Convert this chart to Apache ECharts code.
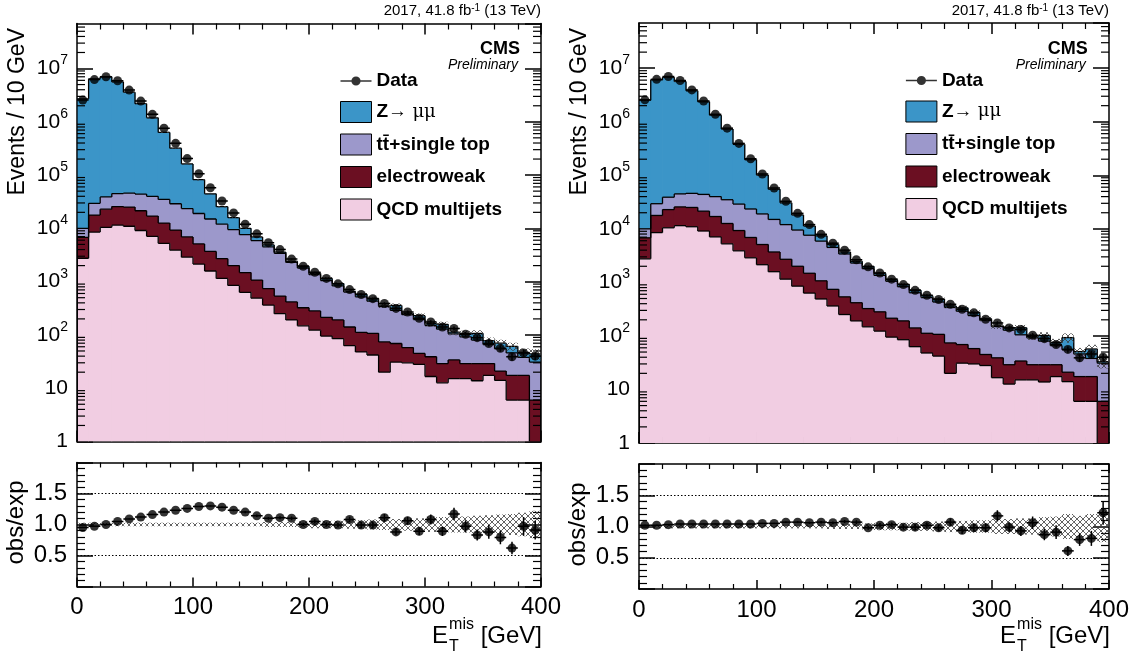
<!DOCTYPE html>
<html>
<head>
<meta charset="utf-8">
<script src="https://cdn.jsdelivr.net/npm/echarts@6/dist/echarts.min.js"></script>
<style>html,body{margin:0;padding:0;background:#fff;}#chart{width:1142px;height:655px;}</style>
</head>
<body>
<div id="chart"></div>
<script>
// ---------------- data ----------------
const binLow = [0,10,20,30,40,50,60,70,80,90,100,110,120,130,140,150,160,170,180,190,200,210,220,230,240,250,260,270,280,290,300,310,320,330,340,350,360,370,380,390];
const xTickValues = [0,100,200,300,400];
const dataCounts = [2.57e6,6.2e6,7.0e6,5.9e6,3.94e6,2.45e6,1.38e6,7.6e5,3.94e5,2.04e5,1.06e5,5.8e4,3.27e4,1.95e4,1.2e4,7900,5400,4000,2650,1950,1500,1150,910,710,575,480,390,315,270,205,175,141,132,103,89,69,56,39,46,40];
const dataErr = [1600,2500,2650,2430,1980,1570,1170,870,630,450,330,240,180,140,110,89,73,63,51,44,39,34,30,27,24,22,20,18,16,14,13,12,11.5,10,9.4,8.3,7.5,6.2,6.8,6.3];
const qcdMultijets = [2750,8510,10470,11480,10960,9120,7080,5250,3890,2880,2140,1585,1150,851,631,490,363,251,191,148,123,95,85,63,48,42,20,31,30,28,16.6,12.6,15.1,15.1,13.8,17.4,14,6.0,6.0,0];
const electroweak = [4050,9290,12430,14220,14140,12280,9920,7350,5410,4020,2960,2115,1550,1149,849,580,378,286,226,176,159,119,106,78,64,65,54,38,28,17,22.4,16.4,18.9,13.9,15.2,11.6,7,11.4,11.4,6.0];
const ttSingleTop = [3200,11700,16100,19300,20900,22600,23000,22400,19700,16600,13900,11300,9300,7500,6120,4830,3760,2860,1880,1480,1070,836,639,499,408,323,266,221,182,150,111,99,71,63,51,37,34,28.6,20.6,25];
const zmumuLeft = [2.69e6,6.37e6,6.96e6,5.56e6,3.56e6,2.15e6,1.15e6,5.98e5,2.91e5,1.385e5,6.3e4,2.96e4,1.35e4,6400,2400,1000,400,200,110,150,80,100,90,17,60,55,11,68,15,35,12,30,8,14,27,12,15,15,9,13];
const zmumuRight = [2.51e6,6.05e6,6.76e6,5.62e6,3.74e6,2.32e6,1.29e6,6.95e5,3.5e5,1.725e5,8.2e4,4.0e4,1.86e4,8700,3700,1500,600,300,180,190,120,70,89,77,44,60,24,45,36,14,3,14,37,5,22,10,38,5,19,2];
const ratioLeft = [0.95,0.97,1.00,1.05,1.09,1.12,1.16,1.20,1.23,1.26,1.29,1.30,1.28,1.23,1.20,1.14,1.10,1.11,1.10,1.00,1.05,1.00,0.99,1.08,0.99,0.99,1.11,0.88,1.06,0.89,1.08,0.89,1.17,0.97,0.83,0.88,0.79,0.62,0.97,0.91];
const ratioRight = [1.02,1.02,1.03,1.04,1.04,1.04,1.04,1.04,1.04,1.04,1.05,1.05,1.07,1.07,1.06,1.07,1.06,1.08,1.07,0.98,1.02,1.03,0.99,0.99,1.02,0.98,1.07,0.94,0.98,0.98,1.17,0.99,0.93,1.06,0.87,0.91,0.61,0.79,0.81,1.22];
const ratioErrLeft = [0.005,0.005,0.005,0.005,0.005,0.005,0.005,0.005,0.005,0.006,0.008,0.01,0.012,0.015,0.018,0.02,0.022,0.025,0.03,0.03,0.035,0.035,0.04,0.045,0.05,0.05,0.06,0.055,0.065,0.065,0.08,0.075,0.1,0.1,0.09,0.11,0.11,0.1,0.15,0.15];
const ratioErrRight = [0.005,0.005,0.005,0.005,0.005,0.005,0.005,0.005,0.005,0.006,0.008,0.01,0.012,0.015,0.018,0.02,0.022,0.025,0.03,0.03,0.035,0.035,0.04,0.045,0.05,0.05,0.06,0.06,0.065,0.07,0.09,0.08,0.08,0.1,0.09,0.11,0.08,0.1,0.12,0.19];
const uncLeft = [0.03,0.03,0.03,0.03,0.03,0.03,0.03,0.03,0.03,0.03,0.03,0.03,0.03,0.03,0.03,0.03,0.04,0.04,0.04,0.05,0.06,0.06,0.06,0.07,0.07,0.08,0.09,0.09,0.1,0.1,0.12,0.12,0.13,0.13,0.14,0.15,0.16,0.17,0.19,0.22];
const uncRight = [0.03,0.03,0.03,0.03,0.03,0.03,0.03,0.03,0.03,0.03,0.03,0.03,0.03,0.03,0.03,0.03,0.04,0.04,0.04,0.05,0.06,0.06,0.06,0.07,0.07,0.08,0.09,0.09,0.1,0.1,0.12,0.12,0.13,0.13,0.15,0.16,0.2,0.17,0.2,0.25];
const legendNames = ['Data','Z\u2192 \u03bc\u03bc','t\u0074\u0304+single top','electroweak','QCD multijets'];
const lumiText = '2017, 41.8 fb';

// ---------------- style ----------------
const FONT = 'Liberation Sans';
const BIN_W = 10, YMIN = 1, YMAX = 7e7;
const COLORS = {z:'#3b95c8', tt:'#9c98cb', ewk:'#6b0f22', qcd:'#f1cde2'};

function cum(...arrs){ return binLow.map((_,i)=>arrs.reduce((s,a)=>s+a[i],0)); }
function hatchCanvas(){
  const c=document.createElement('canvas'); c.width=6; c.height=6;
  const g=c.getContext('2d'); g.strokeStyle='#3a3a3a'; g.lineWidth=0.8;
  g.beginPath(); g.moveTo(0,0); g.lineTo(6,6); g.moveTo(6,0); g.lineTo(0,6); g.stroke();
  return c;
}
const HATCH = {image: hatchCanvas(), repeat:'repeat'};
const measureCtx = document.createElement('canvas').getContext('2d');
function textW(t, size){ measureCtx.font = size+'px "'+FONT+'"'; return measureCtx.measureText(t).width; }

const panels = [
  {z: zmumuLeft, ratio: ratioLeft, rErr: ratioErrLeft, unc: uncLeft,
   main:{left:77, top:23.5, width:464, height:418}, rat:{left:77, top:462.5, width:464, height:124}},
  {z: zmumuRight, ratio: ratioRight, rErr: ratioErrRight, unc: uncRight,
   main:{left:639, top:23, width:470, height:420}, rat:{left:639, top:464, width:470, height:125}}
];

const grids=[], xAxes=[], yAxes=[], series=[], legends=[], titles=[], graphics=[];
const axisLineStyle = {color:'#000', width:1.5};

function logLabel(v){
  const l = Math.log10(v), e = Math.round(l);
  if (Math.abs(l-e) > 1e-6 || e < 0 || e > 7) return '';
  if (e===0) return '{n|1}';
  if (e===1) return '{n|10}';
  return '{n|10}{s|'+e+'}';
}

panels.forEach((P, p) => {
  const gMain = 2*p, gRat = 2*p+1;
  grids.push(Object.assign({show:false, outerBoundsMode:'none', containLabel:false}, P.main));
  grids.push(Object.assign({show:false, outerBoundsMode:'none', containLabel:false}, P.rat));
  [gMain, gRat].forEach(g => {
    const isRat = g === gRat;
    ['bottom','top'].forEach(pos => {
      xAxes.push({type:'value', gridIndex:g, position:pos, min:0, max:400, interval:100,
        axisLine:{show:true, onZero:false, lineStyle:axisLineStyle},
        axisTick:{show:true, inside:true, length: isRat?9:11, lineStyle:{color:'#000', width:1.5}},
        minorTick:{show:true, splitNumber:5, length: isRat?5:6, lineStyle:{color:'#000', width:1.2}},
        splitLine:{show:false},
        axisLabel:{show: isRat && pos==='bottom', margin:9, color:'#000', fontFamily:FONT, fontSize:24,
          formatter: v => xTickValues.includes(v) ? String(v) : ''}
      });
    });
  });
  ['left','right'].forEach(pos => {
    yAxes.push({type:'log', logBase:10, gridIndex:gMain, position:pos, min:YMIN, max:YMAX, interval:1,
      axisLine:{show:true, onZero:false, lineStyle:axisLineStyle},
      axisTick:{show:true, inside:true, length:16, lineStyle:{color:'#000', width:1.5}},
      minorTick:{show:false}, splitLine:{show:false},
      axisLabel:{show: pos==='left', margin:9, color:'#000', formatter: logLabel, showMaxLabel:false,
        rich:{n:{fontFamily:FONT, fontSize:21, lineHeight:30, color:'#000'},
              s:{fontFamily:FONT, fontSize:14, lineHeight:16, verticalAlign:'top', color:'#000'}}}
    });
  });
  ['left','right'].forEach(pos => {
    yAxes.push({type:'value', gridIndex:gRat, position:pos, min:0, max:2, interval:0.5,
      axisLine:{show:true, onZero:false, lineStyle:axisLineStyle},
      axisTick:{show:true, inside:true, length:16, lineStyle:{color:'#000', width:1.5}},
      minorTick:{show:true, splitNumber:5, length:8, lineStyle:{color:'#000', width:1.2}},
      splitLine:{show:false},
      axisLabel:{show: pos==='left', margin:10, color:'#000', fontFamily:FONT, fontSize:24,
        formatter: v => (Math.abs(v-0.5)<1e-9||Math.abs(v-1)<1e-9||Math.abs(v-1.5)<1e-9) ? v.toFixed(1) : ''}
    });
  });

  const xi = 4*p, yi = 4*p;
  const rxi = 4*p+2, ryi = 4*p+2;
  const qTop = cum(qcdMultijets);
  const eTop = cum(qcdMultijets, electroweak);
  const tTop = cum(qcdMultijets, electroweak, ttSingleTop);
  const total = cum(qcdMultijets, electroweak, ttSingleTop, P.z);
  const zeros = binLow.map(()=>0);

  function fillSeries(name, lower, upper, color){
    return {type:'custom', name, xAxisIndex:xi, yAxisIndex:yi, clip:true, z:2, silent:true,
      itemStyle:{color}, encode:{x:0, y:3},
      data: binLow.map((x,i)=>[x, x+BIN_W, lower[i], upper[i]]),
      renderItem(params, api){
        const lo = Math.max(api.value(2), YMIN), hi = api.value(3);
        if (!(hi > lo)) return null;
        const a = api.coord([api.value(0), hi]), b = api.coord([api.value(1), lo]);
        return {type:'rect', shape:{x:a[0]-0.4, y:a[1], width:b[0]-a[0]+0.8, height:b[1]-a[1]}, style:{fill:color}};
      }};
  }
  function outlineSeries(upper){
    const cl = v => Math.max(v, YMIN*0.3);
    const ls = {stroke:'#000', lineWidth:1.3};
    return {type:'custom', xAxisIndex:xi, yAxisIndex:yi, clip:true, z:3, silent:true, encode:{x:0, y:2},
      data: binLow.map((x,i)=>[x, x+BIN_W, upper[i]]),
      renderItem(params, api){
        const i = params.dataIndex, x0 = api.value(0), x1 = api.value(1), v = cl(api.value(2));
        const prev = i>0 ? cl(upper[i-1]) : YMIN*0.3;
        const a = api.coord([x0, v]), b = api.coord([x1, v]), c = api.coord([x0, prev]);
        const ch = [{type:'line', shape:{x1:a[0],y1:a[1],x2:b[0],y2:b[1]}, style:ls},
                    {type:'line', shape:{x1:c[0],y1:c[1],x2:a[0],y2:a[1]}, style:ls}];
        if (i === binLow.length-1){ const d = api.coord([x1, YMIN*0.3]); ch.push({type:'line', shape:{x1:b[0],y1:b[1],x2:d[0],y2:d[1]}, style:ls}); }
        return {type:'group', children:ch};
      }};
  }
  function bandSeries(center, unc, xIdx, yIdx, z){
    return {type:'custom', xAxisIndex:xIdx, yAxisIndex:yIdx, clip:true, z, silent:true, encode:{x:0, y:2},
      data: binLow.map((x,i)=>[x, x+BIN_W, center[i], unc[i]]),
      renderItem(params, api){
        const c = api.value(2), u = api.value(3);
        const a = api.coord([api.value(0), c*(1+u)]), b = api.coord([api.value(1), Math.max(c*(1-u), 1e-3)]);
        return {type:'rect', shape:{x:a[0], y:a[1], width:b[0]-a[0], height:b[1]-a[1]}, style:{fill:HATCH}};
      }};
  }
  function errSeries(vals, errs, xIdx, yIdx){
    const ls = {stroke:'#000', lineWidth:1.5};
    return {type:'custom', xAxisIndex:xIdx, yAxisIndex:yIdx, clip:true, z:4, silent:true, encode:{x:0, y:2},
      data: binLow.map((x,i)=>[x, x+BIN_W, vals[i], errs[i]]),
      renderItem(params, api){
        const x0 = api.value(0), x1 = api.value(1), v = api.value(2), e = api.value(3), xc = (x0+x1)/2;
        const a = api.coord([x0, v]), b = api.coord([x1, v]);
        const c = api.coord([xc, v+e]), d = api.coord([xc, Math.max(v-e, 1e-3)]);
        return {type:'group', children:[
          {type:'line', shape:{x1:a[0],y1:a[1],x2:b[0],y2:b[1]}, style:ls},
          {type:'line', shape:{x1:c[0],y1:c[1],x2:d[0],y2:d[1]}, style:ls}]};
      }};
  }

  series.push(fillSeries(legendNames[1], tTop, total, COLORS.z));
  series.push(fillSeries(legendNames[2], eTop, tTop, COLORS.tt));
  series.push(fillSeries(legendNames[3], qTop, eTop, COLORS.ewk));
  series.push(fillSeries(legendNames[4], zeros, qTop, COLORS.qcd));
  [total, tTop, eTop, qTop].forEach(u => series.push(outlineSeries(u)));
  series.push(bandSeries(total, P.unc, xi, yi, 3.5));
  series.push(errSeries(dataCounts, dataErr, xi, yi));
  series.push({type:'scatter', name:legendNames[0], xAxisIndex:xi, yAxisIndex:yi, z:5, silent:true,
    symbol:'circle', symbolSize:9, itemStyle:{color:'#000'},
    data: binLow.map((x,i)=>[x+BIN_W/2, dataCounts[i]])});

  series.push(bandSeries(binLow.map(()=>1), P.unc, rxi, ryi, 2));
  series.push(errSeries(P.ratio, P.rErr, rxi, ryi));
  series.push({type:'scatter', xAxisIndex:rxi, yAxisIndex:ryi, z:5, silent:true,
    symbol:'circle', symbolSize:9, itemStyle:{color:'#000'},
    data: binLow.map((x,i)=>[x+BIN_W/2, P.ratio[i]]),
    markLine:{silent:true, symbol:'none', label:{show:false}, z:1,
      lineStyle:{color:'#000', type:[1.5,2], width:1},
      data:[{yAxis:0.5},{yAxis:1.5}]}});

  const sx = v => P.main.left + (v-77)*(P.main.width/464);
  legends.push({left: sx(340), top: 71.5 - p*0.5, orient:'vertical', itemWidth:31, itemHeight:21, itemGap:10.5,
    selectedMode:false, padding:0,
    textStyle:{fontFamily:FONT, fontSize:19, fontWeight:'bold', color:'#000',
      rich:{m:{fontFamily:'DejaVu Serif', fontWeight:'normal', fontSize:18, color:'#000'}}},
    formatter: n => n === legendNames[1] ? 'Z\u2192 {m|\u03bc\u03bc}' : n,
    data:[
      {name:legendNames[0], icon:'path://M0,10 L31,10 L31,11.5 L0,11.5 Z M15.5,6.2 A4.6,4.6 0 1 1 15.49,6.2 Z', itemStyle:{color:'#000', borderWidth:0}},
      {name:legendNames[1], icon:'rect', itemStyle:{color:COLORS.z, borderColor:'#000', borderWidth:1}},
      {name:legendNames[2], icon:'rect', itemStyle:{color:COLORS.tt, borderColor:'#000', borderWidth:1}},
      {name:legendNames[3], icon:'rect', itemStyle:{color:COLORS.ewk, borderColor:'#000', borderWidth:1}},
      {name:legendNames[4], icon:'rect', itemStyle:{color:COLORS.qcd, borderColor:'#000', borderWidth:1}}
    ]});

  const rEdge = P.main.left + P.main.width;
  titles.push({text: lumiText + '{s|-1} (13 TeV)', right: 1142 - rEdge, top: 3, padding:0,
    textStyle:{fontFamily:FONT, fontSize:15, fontWeight:'normal', color:'#000',
      rich:{s:{fontFamily:FONT, fontSize:10, verticalAlign:'top', lineHeight:10, color:'#000'}}}});
  titles.push({text:'CMS', right: 1142 - sx(520), top: 40, padding:0,
    textStyle:{fontFamily:FONT, fontSize:18, fontWeight:'bold', color:'#000'}});
  titles.push({text:'Preliminary', right: 1142 - sx(518), top: 58, padding:0,
    textStyle:{fontFamily:FONT, fontSize:14, fontStyle:'italic', fontWeight:'normal', color:'#000'}});

  const ox = P.main.left - 77;
  graphics.push({type:'text', x: 18+ox, y: 28, rotation: Math.PI/2,
    style:{text:'Events / 10 GeV', fontSize:23, fontFamily:FONT, fill:'#000', align:'right', textAlign:'right', verticalAlign:'middle', textVerticalAlign:'middle'}});
  graphics.push({type:'text', x: 16+ox, y: P.rat.top + P.rat.height/2 - 2, rotation: Math.PI/2,
    style:{text:'obs/exp', fontSize:24, fontFamily:FONT, fill:'#000', align:'center', textAlign:'center', verticalAlign:'middle', textVerticalAlign:'middle'}});
  const xr = rEdge + 1, yb = 636;
  const wG = textW(' [GeV]', 24), wM = textW('mis', 16);
  const xE = xr - wG - wM - 1;
  graphics.push({type:'text', x:xr, y:yb, style:{text:' [GeV]', fontSize:24, fontFamily:FONT, fill:'#000', align:'right', textAlign:'right', verticalAlign:'middle', textVerticalAlign:'middle'}});
  graphics.push({type:'text', x:xE+1, y:yb-11, style:{text:'mis', fontSize:16, fontFamily:FONT, fill:'#000', align:'left', textAlign:'left', verticalAlign:'middle', textVerticalAlign:'middle'}});
  graphics.push({type:'text', x:xE+1, y:yb+11, style:{text:'T', fontSize:16, fontFamily:FONT, fill:'#000', align:'left', textAlign:'left', verticalAlign:'middle', textVerticalAlign:'middle'}});
  graphics.push({type:'text', x:xE, y:yb, style:{text:'E', fontSize:24, fontFamily:FONT, fill:'#000', align:'right', textAlign:'right', verticalAlign:'middle', textVerticalAlign:'middle'}});

  const minorVals = [];
  for (let n=0; n<8; n++) for (let k=2; k<=9; k++){ const v=k*Math.pow(10,n); if (v<YMAX) minorVals.push(v); }
  series.push({type:'custom', xAxisIndex:xi, yAxisIndex:yi, clip:false, z:6, silent:true, encode:{y:0},
    data: minorVals.map(v=>[v]),
    renderItem(params, api){
      const v = api.value(0), a = api.coord([0, v]), b = api.coord([400, v]);
      const ls = {stroke:'#000', lineWidth:1.2};
      return {type:'group', children:[
        {type:'line', shape:{x1:a[0], y1:a[1], x2:a[0]+8, y2:a[1]}, style:ls},
        {type:'line', shape:{x1:b[0], y1:b[1], x2:b[0]-8, y2:b[1]}, style:ls}]};
    }});
});

const chart = echarts.init(document.getElementById('chart'), null, {renderer:'canvas'});
chart.setOption({
  animation:false, backgroundColor:'#fff',
  textStyle:{fontFamily:FONT},
  grid:grids, xAxis:xAxes, yAxis:yAxes, series, legend:legends, title:titles, graphic:graphics
});
</script>
</body>
</html>
